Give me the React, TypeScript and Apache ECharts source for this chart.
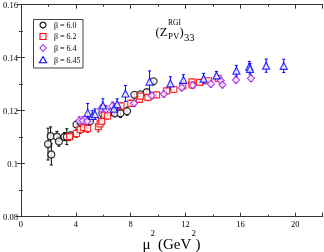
import React, { useEffect, useRef } from "react";
import * as echarts from "echarts";

const b60X = [1.98, 2.17, 2.22, 2.63, 2.77, 3.18, 3.35, 3.64, 4.05, 4.37, 4.73, 5.04, 5.93, 6.18, 6.49, 6.85, 7.26, 7.74, 8.27, 8.71, 9.17, 9.67];
const b60Y = [0.1074, 0.1104, 0.1035, 0.1102, 0.1084, 0.1102, 0.1102, 0.1107, 0.1148, 0.1155, 0.115, 0.116, 0.119, 0.1192, 0.1194, 0.119, 0.119, 0.1198, 0.126, 0.1262, 0.127, 0.1311];
const b60E = [0.006, 0.0035, 0.004, 0.002, 0.0018, 0.0015, 0.003, 0.0012, 0.001, 0.001, 0.001, 0.001, 0.001, 0.001, 0.001, 0.001, 0.0015, 0.0015, 0.001, 0.001, 0.001, 0.001];

const b62X = [3.55, 4.05, 4.32, 4.58, 4.87, 5.65, 5.77, 5.89, 6.08, 6.32, 7.3, 8.01, 8.64, 8.73, 9.26, 9.89, 10.62, 11.15, 11.8, 12.47, 12.47, 13.03, 13.68, 14.38];
const b62Y = [0.1102, 0.1114, 0.1129, 0.1136, 0.1133, 0.114, 0.115, 0.116, 0.1183, 0.118, 0.1218, 0.1228, 0.1243, 0.1255, 0.125, 0.126, 0.1275, 0.128, 0.1294, 0.1309, 0.1297, 0.1307, 0.1313, 0.1322];
const b62E = [0.0015, 0.0015, 0.0015, 0.0015, 0.0015, 0.002, 0.0018, 0.0015, 0.0012, 0.0012, 0.0012, 0.0012, 0.0012, 0.0012, 0.0012, 0.001, 0.001, 0.001, 0.001, 0.001, 0.001, 0.001, 0.001, 0.001];

const b64X = [4.25, 4.51, 4.83, 5.84, 6.2, 6.68, 8.25, 9.55, 10.42, 11.72, 12.52, 13.85, 14.57, 14.69, 15.68, 16.77];
const b64Y = [0.1162, 0.1162, 0.116, 0.1206, 0.1205, 0.1218, 0.1228, 0.1257, 0.1263, 0.1287, 0.1296, 0.1301, 0.1313, 0.1298, 0.1316, 0.1322];
const b64E = [0.0015, 0.0015, 0.0015, 0.0015, 0.0015, 0.0015, 0.0012, 0.0012, 0.0012, 0.0012, 0.0012, 0.0012, 0.0012, 0.0012, 0.0012, 0.0012];

const b645X = [4.87, 5.21, 5.4, 5.98, 6.78, 7.02, 7.62, 9.38, 10.9, 11.85, 13.32, 14.26, 15.71, 16.65, 16.7, 17.88, 19.16];
const b645Y = [0.1192, 0.118, 0.1187, 0.122, 0.1208, 0.1225, 0.1265, 0.131, 0.1303, 0.1316, 0.1321, 0.1333, 0.1351, 0.1366, 0.1358, 0.137, 0.1369];
const b645E = [0.0035, 0.002, 0.002, 0.0025, 0.002, 0.002, 0.003, 0.004, 0.0025, 0.002, 0.002, 0.0015, 0.002, 0.002, 0.002, 0.0025, 0.0025];

const seriesNames = ["β = 6.0", "β = 6.2", "β = 6.4", "β = 6.45"];
const seriesColors = ["#000000", "#ff0000", "#a020f0", "#0000ff"];

const SERIF = "'Liberation Serif', 'DejaVu Serif', serif";

export default function App() {
  const ref = useRef<HTMLDivElement>(null);
  useEffect(() => {
    if (!ref.current) return;
    const chart = echarts.init(ref.current, undefined, { renderer: "svg" });
    const sets = [
      { name: seriesNames[0], xs: b60X, ys: b60Y, es: b60E, color: seriesColors[0], symbol: "circle", size: 7 },
      { name: seriesNames[1], xs: b62X, ys: b62Y, es: b62E, color: seriesColors[1], symbol: "rect", size: 6 },
      { name: seriesNames[2], xs: b64X, ys: b64Y, es: b64E, color: seriesColors[2], symbol: "diamond", size: 7 },
      { name: seriesNames[3], xs: b645X, ys: b645Y, es: b645E, color: seriesColors[3], symbol: "triangle", size: 7 },
    ];
    const series: any[] = [];
    sets.forEach((s, i) => {
      const data = s.xs.map((x, k) => [x, s.ys[k], s.es[k]]);
      series.push({
        type: "custom",
        name: s.name + " err",
        xAxisIndex: 0,
        yAxisIndex: 0,
        z: 2 + i,
        data,
        encode: { x: 0, y: 1 },
        renderItem: (params: any, api: any) => {
          const x = api.value(0);
          const y = api.value(1);
          const e = api.value(2);
          const hi = api.coord([x, y + e]);
          const lo = api.coord([x, y - e]);
          const cw = 1.5;
          const st = { stroke: s.color, lineWidth: 1 };
          return {
            type: "group",
            children: [
              { type: "line", shape: { x1: hi[0], y1: hi[1], x2: lo[0], y2: lo[1] }, style: st },
              { type: "line", shape: { x1: hi[0] - cw, y1: hi[1], x2: hi[0] + cw, y2: hi[1] }, style: st },
              { type: "line", shape: { x1: lo[0] - cw, y1: lo[1], x2: lo[0] + cw, y2: lo[1] }, style: st },
            ],
          };
        },
      });
      series.push({
        type: "scatter",
        name: s.name,
        xAxisIndex: 0,
        yAxisIndex: 0,
        z: 10 + i,
        symbol: s.symbol,
        symbolSize: s.size,
        itemStyle: { color: "#ffffff", borderColor: s.color, borderWidth: 1.2 },
        data: s.xs.map((x, k) => [x, s.ys[k]]),
      });
    });

    const axisCommon = {
      axisLine: { show: true, lineStyle: { color: "#333", width: 1 } },
      axisTick: { show: true, inside: true, length: 4, lineStyle: { color: "#333" } },
      minorTick: { show: true, splitNumber: 2, length: 2, lineStyle: { color: "#333" } },
      splitLine: { show: false },
      minorSplitLine: { show: false },
    };
    const xBase = { type: "value", min: 0, max: 22, interval: 4, ...axisCommon };
    const yBase = { type: "value", min: 0.08, max: 0.16, interval: 0.02, ...axisCommon };

    // legend drawn as graphic elements
    const lgX = 43;
    const rows = [25, 36.5, 48, 60];
    const sw = 1.1;
    const legendEls: any[] = [
      { type: "rect", shape: { x: 33.5, y: 19.5, width: 49.5, height: 48.5 }, style: { fill: "#fff", stroke: "#444", lineWidth: 1 }, z: 50 },
      { type: "circle", shape: { cx: lgX, cy: rows[0], r: 3 }, style: { fill: "#fff", stroke: seriesColors[0], lineWidth: sw }, z: 51 },
      { type: "rect", shape: { x: lgX - 3, y: rows[1] - 3, width: 6, height: 6 }, style: { fill: "#fff", stroke: seriesColors[1], lineWidth: sw }, z: 51 },
      { type: "polygon", shape: { points: [[lgX, rows[2] - 3.5], [lgX + 3, rows[2]], [lgX, rows[2] + 3.5], [lgX - 3, rows[2]]] }, style: { fill: "#fff", stroke: seriesColors[2], lineWidth: sw }, z: 51 },
      { type: "polygon", shape: { points: [[lgX, rows[3] - 3.5], [lgX + 3.6, rows[3] + 2.8], [lgX - 3.6, rows[3] + 2.8]] }, style: { fill: "#fff", stroke: seriesColors[3], lineWidth: sw }, z: 51 },
    ];
    seriesNames.forEach((n, i) => {
      legendEls.push({ type: "text", x: 54, y: rows[i], z: 51, style: { text: n, font: `8px ${SERIF}`, fill: "#000", textVerticalAlign: "middle" } });
    });

    chart.setOption({
      animation: false,
      grid: { left: 18.7, right: 1.3, top: 4.7, bottom: 35.3, containLabel: false },
      xAxis: [
        {
          ...xBase,
          position: "bottom",
          axisLabel: { show: true, showMaxLabel: false, fontFamily: SERIF, fontSize: 8.5, color: "#000", margin: 3 },
        },
        { ...xBase, position: "top", axisLabel: { show: false } },
      ],
      yAxis: [
        {
          ...yBase,
          position: "left",
          axisLabel: { show: true, fontFamily: SERIF, fontSize: 8.5, color: "#000", margin: 3 },
        },
        { ...yBase, position: "right", axisLabel: { show: false } },
      ],
      graphic: [
        ...legendEls,
        { type: "text", x: 155.5, y: 32, style: { text: "(Z", font: `12.5px ${SERIF}`, fill: "#000", textVerticalAlign: "middle" } },
        { type: "text", x: 168, y: 22, style: { text: "RGI", font: `7.5px ${SERIF}`, fill: "#000", textVerticalAlign: "middle" } },
        { type: "text", x: 168, y: 36, style: { text: "PV", font: `9px ${SERIF}`, fill: "#000", textVerticalAlign: "middle" } },
        { type: "text", x: 179.5, y: 32, style: { text: ")", font: `12.5px ${SERIF}`, fill: "#000", textVerticalAlign: "middle" } },
        { type: "text", x: 184, y: 37, style: { text: "33", font: `10.5px ${SERIF}`, fill: "#000", textVerticalAlign: "middle" } },
        { type: "text", x: 142.5, y: 244, style: { text: "μ", font: `15px ${SERIF}`, fill: "#000", textVerticalAlign: "middle" } },
        { type: "text", x: 150.5, y: 233, style: { text: "2", font: `9px ${SERIF}`, fill: "#000", textVerticalAlign: "middle" } },
        { type: "text", x: 158, y: 244, style: { text: "(GeV", font: `15px ${SERIF}`, fill: "#000", textVerticalAlign: "middle" } },
        { type: "text", x: 191.5, y: 233, style: { text: "2", font: `9px ${SERIF}`, fill: "#000", textVerticalAlign: "middle" } },
        { type: "text", x: 195.5, y: 244, style: { text: ")", font: `15px ${SERIF}`, fill: "#000", textVerticalAlign: "middle" } },
      ],
      series,
    });
    return () => chart.dispose();
  }, []);
  return <div ref={ref} style={{ position: "fixed", left: 0, top: 0, width: 324, height: 252 }} />;
}
